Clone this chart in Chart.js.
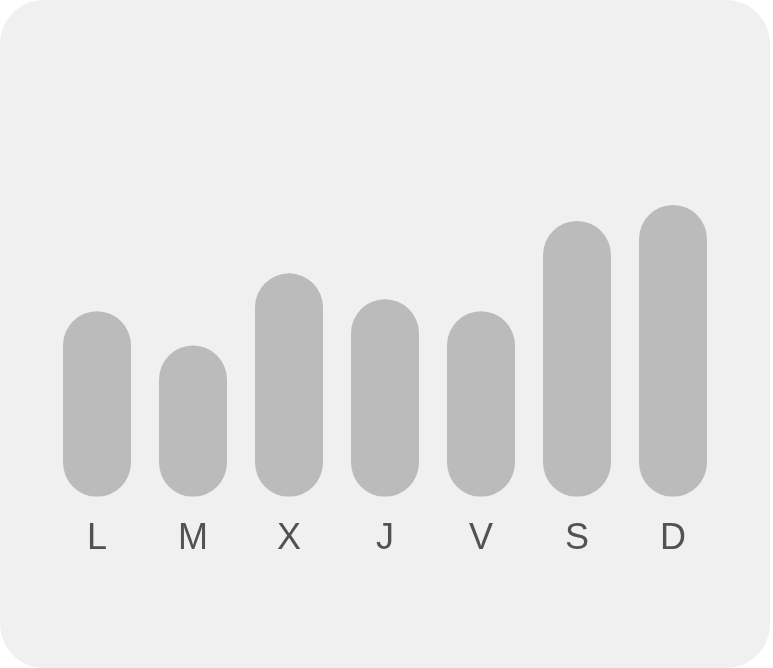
<!DOCTYPE html>
<html>
<head>
<meta charset="utf-8">
<script src="https://cdn.jsdelivr.net/npm/chart.js@4"></script>
<style>
  html, body { margin: 0; padding: 0; background: #ffffff; }
  #card { position: absolute; left: 0; top: 0; width: 770px; height: 668px; background: #f0f0f0; border-radius: 44px; overflow: hidden; }
  canvas { display: block; }
</style>
</head>
<body>
<div id="card"><canvas id="c" width="773" height="668"></canvas></div>
<script>
const days = ["L", "M", "X", "J", "V", "S", "D"];
const values = [61.7, 50.3, 74.3, 65.7, 61.7, 91.7, 97];
const yMax = 100;

new Chart(document.getElementById('c'), {
  type: 'bar',
  data: {
    labels: days,
    datasets: [{
      data: values,
      backgroundColor: '#bbbbbb',
      borderRadius: 34,
      borderSkipped: false,
      barPercentage: 0.708,
      categoryPercentage: 1.0
    }]
  },
  options: {
    responsive: false,
    animation: false,
    events: [],
    layout: { padding: { left: 49, right: 52, top: 196, bottom: 86 } },
    plugins: { legend: { display: false }, tooltip: { enabled: false } },
    scales: {
      x: {
        grid: { display: false, drawTicks: false },
        border: { display: false },
        ticks: { color: '#525252', padding: 21, font: { family: 'Liberation Sans, Arial, sans-serif', size: 36 } }
      },
      y: { display: false, min: 0, max: yMax }
    }
  }
});
</script>
</body>
</html>
